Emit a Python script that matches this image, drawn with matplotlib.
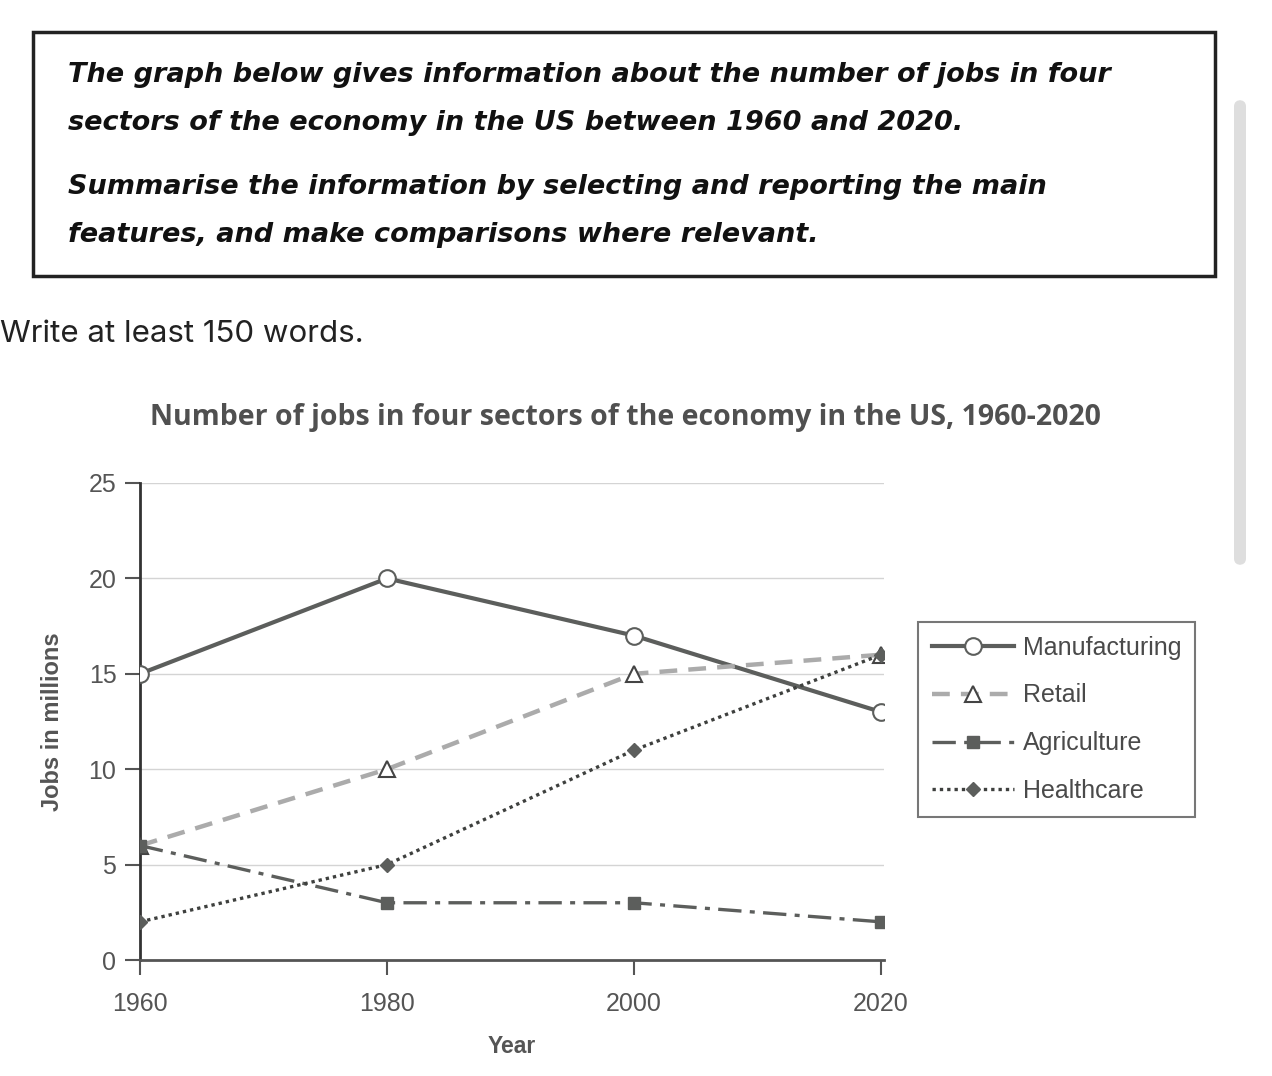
import matplotlib.pyplot as plt
from matplotlib.patches import Rectangle, FancyBboxPatch

# data
years = [1960, 1980, 2000, 2020]
manufacturing = [15, 20, 17, 13]
retail = [6, 10, 15, 16]
agriculture = [6, 3, 3, 2]
healthcare = [2, 5, 11, 16]
y_ticks = [0, 5, 10, 15, 20, 25]

dark = "#5c5e5c"
light = "#ababab"
txt = "#4a4a4a"

fig = plt.figure(figsize=(12.72, 10.76), dpi=100)
fig.patch.set_facecolor("white")

# task box at the top
fig.patches.append(Rectangle((33 / 1272, 1 - 276 / 1076), (1215 - 33) / 1272, (276 - 32) / 1076,
                             transform=fig.transFigure, fill=False, edgecolor="#222222", linewidth=2.5))
task_lines = [
    ("The graph below gives information about the number of jobs in four", 75),
    ("sectors of the economy in the US between 1960 and 2020.", 123),
    ("Summarise the information by selecting and reporting the main", 187),
    ("features, and make comparisons where relevant.", 235),
]
for s, yp in task_lines:
    fig.text(68 / 1272, 1 - yp / 1076, s, fontsize=19.5, fontweight="bold", fontstyle="oblique",
             family="DejaVu Sans", color="#111111", va="center", ha="left")

fig.text(0.0, 1 - 334 / 1076, "Write at least 150 words.", fontsize=22.5, family="Inter",
         color="#222222", va="center", ha="left")

# scrollbar on the right edge
fig.patches.append(FancyBboxPatch((1234 / 1272, 1 - 565 / 1076), 12 / 1272, (565 - 100) / 1076,
                                  boxstyle="round,pad=0,rounding_size=0.006",
                                  transform=fig.transFigure, facecolor="#dedede", edgecolor="none"))

fig.text(625 / 1272, 1 - 417 / 1076, "Number of jobs in four sectors of the economy in the US, 1960-2020",
         fontsize=20.5, fontweight="bold", family="Open Sans", color="#505050", ha="center", va="center")

ax = fig.add_axes([140 / 1272, 1 - 960 / 1076, (884 - 140) / 1272, (960 - 483) / 1076])

ax.plot(years, manufacturing, color=dark, lw=3, marker="o", ms=12, mfc="white", mec=dark, mew=1.5,
        label="Manufacturing", zorder=3)
ax.plot(years, retail, color=light, lw=3.2, ls=(0, (4, 2.5)), marker="^", ms=12, mfc="white", mec="#444444",
        mew=1.5, label="Retail", zorder=3)
ax.plot(years, agriculture, color=dark, lw=2.4, ls=(0, (7, 2.5, 1.5, 2.5)), marker="s", ms=9, mfc=dark,
        mec=dark, label="Agriculture", zorder=3)
ax.plot(years, healthcare, color="#3e403e", lw=2.4, ls=(0, (1, 1.2)), marker="D", ms=7.5, mfc=dark,
        mec=dark, label="Healthcare", zorder=4)

ax.set_xlim(1960, 2020.24)
ax.set_ylim(0, 25)
ax.set_xticks(years)
ax.set_yticks(y_ticks)
ax.yaxis.grid(True, color="#d4d4d4", lw=1)
ax.set_axisbelow(True)
for sp in ["top", "right"]:
    ax.spines[sp].set_visible(False)
ax.spines["left"].set_color("#333333")
ax.spines["left"].set_linewidth(2)
ax.spines["bottom"].set_color("#555555")
ax.spines["bottom"].set_linewidth(2)
ax.tick_params(axis="both", length=11, width=1.5, color="#555555", labelsize=18, labelcolor="#555555")
ax.tick_params(axis="x", pad=12)
ax.tick_params(axis="y", pad=6)
for lab in ax.get_xticklabels() + ax.get_yticklabels():
    lab.set_family("Liberation Sans")

ax.set_ylabel("Jobs in millions", fontsize=17, fontweight="bold", color="#555555", family="Liberation Sans",
              labelpad=18)
ax.set_xlabel("Year", fontsize=16.5, fontweight="bold", color="#555555", family="Liberation Sans",
              labelpad=14)

leg = fig.legend(loc="upper left", bbox_to_anchor=(918 / 1272, 1 - 622 / 1076), frameon=True,
                 fancybox=False, edgecolor="#555555", handlelength=3.3,
                 labelspacing=0.95, borderpad=0.55, handletextpad=0.35, borderaxespad=0,
                 prop={"family": "Liberation Sans", "size": 18})
leg.get_frame().set_linewidth(1.5)
for t in leg.get_texts():
    t.set_color("#4a4a4a")

fig.savefig("out.png", dpi=100)
